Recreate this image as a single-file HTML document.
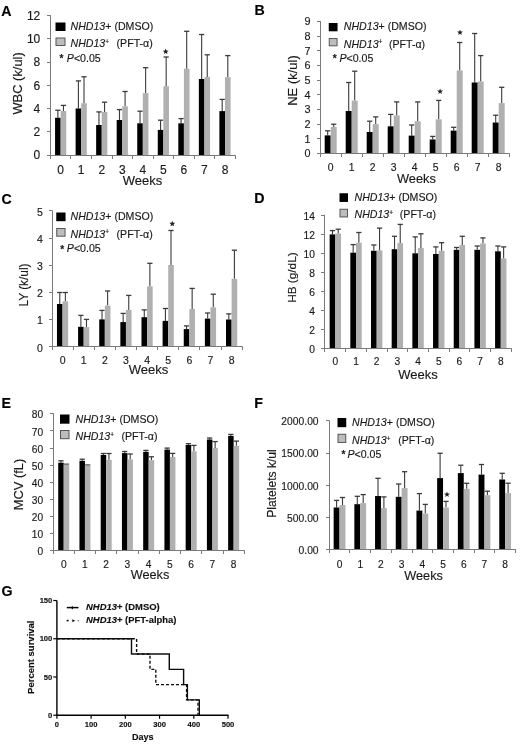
<!DOCTYPE html>
<html><head><meta charset="utf-8"><title>Figure</title>
<style>
html,body{margin:0;padding:0;background:#fff;}
body{width:520px;height:745px;overflow:hidden;}
svg{display:block;font-family:"Liberation Sans",sans-serif;}
text{stroke:#1a1a1a;stroke-width:0.15px;}
</style></head><body>
<svg width="520" height="745" viewBox="0 0 520 745">
<defs><filter id="soft" x="0" y="0" width="100%" height="100%"><feGaussianBlur stdDeviation="0.35"/></filter></defs>
<rect x="0" y="0" width="520" height="745" fill="#fff"/>
<g filter="url(#soft)">
<line x1="57.87" y1="117.75" x2="57.87" y2="110.25" stroke="#3a3a3a" stroke-width="1.1"/>
<line x1="55.27" y1="110.25" x2="60.47" y2="110.25" stroke="#3a3a3a" stroke-width="1.3"/>
<line x1="63.47" y1="111" x2="63.47" y2="105.4" stroke="#3a3a3a" stroke-width="1.1"/>
<line x1="60.87" y1="105.4" x2="66.07" y2="105.4" stroke="#3a3a3a" stroke-width="1.3"/>
<rect x="55.07" y="117.75" width="5.6" height="37.35" fill="#000"/>
<rect x="60.67" y="111" width="5.6" height="44.1" fill="#b0b0b0"/>
<line x1="78.41" y1="108.5" x2="78.41" y2="80.9" stroke="#3a3a3a" stroke-width="1.1"/>
<line x1="75.81" y1="80.9" x2="81.01" y2="80.9" stroke="#3a3a3a" stroke-width="1.3"/>
<line x1="84.01" y1="103.2" x2="84.01" y2="76.8" stroke="#3a3a3a" stroke-width="1.1"/>
<line x1="81.41" y1="76.8" x2="86.61" y2="76.8" stroke="#3a3a3a" stroke-width="1.3"/>
<rect x="75.61" y="108.5" width="5.6" height="46.6" fill="#000"/>
<rect x="81.21" y="103.2" width="5.6" height="51.9" fill="#b0b0b0"/>
<line x1="98.95" y1="125" x2="98.95" y2="111.9" stroke="#3a3a3a" stroke-width="1.1"/>
<line x1="96.35" y1="111.9" x2="101.55" y2="111.9" stroke="#3a3a3a" stroke-width="1.3"/>
<line x1="104.55" y1="111.9" x2="104.55" y2="102.2" stroke="#3a3a3a" stroke-width="1.1"/>
<line x1="101.95" y1="102.2" x2="107.15" y2="102.2" stroke="#3a3a3a" stroke-width="1.3"/>
<rect x="96.15" y="125" width="5.6" height="30.1" fill="#000"/>
<rect x="101.75" y="111.9" width="5.6" height="43.2" fill="#b0b0b0"/>
<line x1="119.49" y1="120" x2="119.49" y2="109.6" stroke="#3a3a3a" stroke-width="1.1"/>
<line x1="116.89" y1="109.6" x2="122.09" y2="109.6" stroke="#3a3a3a" stroke-width="1.3"/>
<line x1="125.09" y1="106.3" x2="125.09" y2="91.5" stroke="#3a3a3a" stroke-width="1.1"/>
<line x1="122.49" y1="91.5" x2="127.69" y2="91.5" stroke="#3a3a3a" stroke-width="1.3"/>
<rect x="116.69" y="120" width="5.6" height="35.1" fill="#000"/>
<rect x="122.29" y="106.3" width="5.6" height="48.8" fill="#b0b0b0"/>
<line x1="140.03" y1="123.3" x2="140.03" y2="111.2" stroke="#3a3a3a" stroke-width="1.1"/>
<line x1="137.43" y1="111.2" x2="142.63" y2="111.2" stroke="#3a3a3a" stroke-width="1.3"/>
<line x1="145.63" y1="93.1" x2="145.63" y2="67.7" stroke="#3a3a3a" stroke-width="1.1"/>
<line x1="143.03" y1="67.7" x2="148.23" y2="67.7" stroke="#3a3a3a" stroke-width="1.3"/>
<rect x="137.23" y="123.3" width="5.6" height="31.8" fill="#000"/>
<rect x="142.83" y="93.1" width="5.6" height="62" fill="#b0b0b0"/>
<line x1="160.57" y1="129.9" x2="160.57" y2="120.2" stroke="#3a3a3a" stroke-width="1.1"/>
<line x1="157.97" y1="120.2" x2="163.17" y2="120.2" stroke="#3a3a3a" stroke-width="1.3"/>
<line x1="166.17" y1="86.2" x2="166.17" y2="57" stroke="#3a3a3a" stroke-width="1.1"/>
<line x1="163.57" y1="57" x2="168.77" y2="57" stroke="#3a3a3a" stroke-width="1.3"/>
<rect x="157.77" y="129.9" width="5.6" height="25.2" fill="#000"/>
<rect x="163.37" y="86.2" width="5.6" height="68.9" fill="#b0b0b0"/>
<line x1="181.11" y1="123.3" x2="181.11" y2="118.6" stroke="#3a3a3a" stroke-width="1.1"/>
<line x1="178.51" y1="118.6" x2="183.71" y2="118.6" stroke="#3a3a3a" stroke-width="1.3"/>
<line x1="186.71" y1="68.7" x2="186.71" y2="31.3" stroke="#3a3a3a" stroke-width="1.1"/>
<line x1="184.11" y1="31.3" x2="189.31" y2="31.3" stroke="#3a3a3a" stroke-width="1.3"/>
<rect x="178.31" y="123.3" width="5.6" height="31.8" fill="#000"/>
<rect x="183.91" y="68.7" width="5.6" height="86.4" fill="#b0b0b0"/>
<line x1="201.65" y1="79" x2="201.65" y2="34.5" stroke="#3a3a3a" stroke-width="1.1"/>
<line x1="199.05" y1="34.5" x2="204.25" y2="34.5" stroke="#3a3a3a" stroke-width="1.3"/>
<line x1="207.25" y1="76.9" x2="207.25" y2="54.8" stroke="#3a3a3a" stroke-width="1.1"/>
<line x1="204.65" y1="54.8" x2="209.85" y2="54.8" stroke="#3a3a3a" stroke-width="1.3"/>
<rect x="198.85" y="79" width="5.6" height="76.1" fill="#000"/>
<rect x="204.45" y="76.9" width="5.6" height="78.2" fill="#b0b0b0"/>
<line x1="222.19" y1="111.1" x2="222.19" y2="99.4" stroke="#3a3a3a" stroke-width="1.1"/>
<line x1="219.59" y1="99.4" x2="224.79" y2="99.4" stroke="#3a3a3a" stroke-width="1.3"/>
<line x1="227.79" y1="77.1" x2="227.79" y2="55.6" stroke="#3a3a3a" stroke-width="1.1"/>
<line x1="225.19" y1="55.6" x2="230.39" y2="55.6" stroke="#3a3a3a" stroke-width="1.3"/>
<rect x="219.39" y="111.1" width="5.6" height="44" fill="#000"/>
<rect x="224.99" y="77.1" width="5.6" height="78" fill="#b0b0b0"/>
<line x1="50.5" y1="15.1" x2="50.5" y2="156" stroke="#7a7a7a" stroke-width="1"/>
<line x1="50" y1="155.5" x2="235.76" y2="155.5" stroke="#7a7a7a" stroke-width="1"/>
<line x1="47" y1="155.5" x2="50.5" y2="155.5" stroke="#7a7a7a" stroke-width="1"/>
<text x="40.3" y="159.42" font-size="12" text-anchor="end" font-weight="normal" font-style="normal" fill="#1a1a1a">0</text>
<line x1="47" y1="131.5" x2="50.5" y2="131.5" stroke="#7a7a7a" stroke-width="1"/>
<text x="40.3" y="136.17" font-size="12" text-anchor="end" font-weight="normal" font-style="normal" fill="#1a1a1a">2</text>
<line x1="47" y1="108.5" x2="50.5" y2="108.5" stroke="#7a7a7a" stroke-width="1"/>
<text x="40.3" y="112.92" font-size="12" text-anchor="end" font-weight="normal" font-style="normal" fill="#1a1a1a">4</text>
<line x1="47" y1="85.5" x2="50.5" y2="85.5" stroke="#7a7a7a" stroke-width="1"/>
<text x="40.3" y="89.67" font-size="12" text-anchor="end" font-weight="normal" font-style="normal" fill="#1a1a1a">6</text>
<line x1="47" y1="62.5" x2="50.5" y2="62.5" stroke="#7a7a7a" stroke-width="1"/>
<text x="40.3" y="66.42" font-size="12" text-anchor="end" font-weight="normal" font-style="normal" fill="#1a1a1a">8</text>
<line x1="47" y1="38.5" x2="50.5" y2="38.5" stroke="#7a7a7a" stroke-width="1"/>
<text x="40.3" y="43.17" font-size="12" text-anchor="end" font-weight="normal" font-style="normal" fill="#1a1a1a">10</text>
<line x1="47" y1="15.5" x2="50.5" y2="15.5" stroke="#7a7a7a" stroke-width="1"/>
<text x="40.3" y="19.92" font-size="12" text-anchor="end" font-weight="normal" font-style="normal" fill="#1a1a1a">12</text>
<line x1="50.5" y1="155.5" x2="50.5" y2="159" stroke="#7a7a7a" stroke-width="1"/>
<line x1="70.5" y1="155.5" x2="70.5" y2="159" stroke="#7a7a7a" stroke-width="1"/>
<line x1="91.5" y1="155.5" x2="91.5" y2="159" stroke="#7a7a7a" stroke-width="1"/>
<line x1="112.5" y1="155.5" x2="112.5" y2="159" stroke="#7a7a7a" stroke-width="1"/>
<line x1="132.5" y1="155.5" x2="132.5" y2="159" stroke="#7a7a7a" stroke-width="1"/>
<line x1="153.5" y1="155.5" x2="153.5" y2="159" stroke="#7a7a7a" stroke-width="1"/>
<line x1="173.5" y1="155.5" x2="173.5" y2="159" stroke="#7a7a7a" stroke-width="1"/>
<line x1="194.5" y1="155.5" x2="194.5" y2="159" stroke="#7a7a7a" stroke-width="1"/>
<line x1="214.5" y1="155.5" x2="214.5" y2="159" stroke="#7a7a7a" stroke-width="1"/>
<line x1="235.5" y1="155.5" x2="235.5" y2="159" stroke="#7a7a7a" stroke-width="1"/>
<text x="60.67" y="173.6" font-size="12" text-anchor="middle" font-weight="normal" font-style="normal" fill="#1a1a1a">0</text>
<text x="81.21" y="173.6" font-size="12" text-anchor="middle" font-weight="normal" font-style="normal" fill="#1a1a1a">1</text>
<text x="101.75" y="173.6" font-size="12" text-anchor="middle" font-weight="normal" font-style="normal" fill="#1a1a1a">2</text>
<text x="122.29" y="173.6" font-size="12" text-anchor="middle" font-weight="normal" font-style="normal" fill="#1a1a1a">3</text>
<text x="142.83" y="173.6" font-size="12" text-anchor="middle" font-weight="normal" font-style="normal" fill="#1a1a1a">4</text>
<text x="163.37" y="173.6" font-size="12" text-anchor="middle" font-weight="normal" font-style="normal" fill="#1a1a1a">5</text>
<text x="183.91" y="173.6" font-size="12" text-anchor="middle" font-weight="normal" font-style="normal" fill="#1a1a1a">6</text>
<text x="204.45" y="173.6" font-size="12" text-anchor="middle" font-weight="normal" font-style="normal" fill="#1a1a1a">7</text>
<text x="224.99" y="173.6" font-size="12" text-anchor="middle" font-weight="normal" font-style="normal" fill="#1a1a1a">8</text>
<text x="142.4" y="185.1" font-size="13" text-anchor="middle" font-weight="normal" font-style="normal" fill="#1a1a1a">Weeks</text>
<text transform="translate(22.3 83.4) rotate(-90)" x="0" y="0" font-size="12.9" text-anchor="middle" font-weight="normal" fill="#1a1a1a">WBC (k/ul)</text>
<text x="1.2" y="15.6" font-size="14.2" text-anchor="start" font-weight="bold" font-style="normal" fill="#000">A</text>
<rect x="55.5" y="22.5" width="10" height="8.5" fill="#000"/>
<rect x="56" y="38" width="9" height="7.5" fill="#bdbdbd" stroke="#555" stroke-width="1"/>
<text x="70.5" y="30.3" font-size="10.6" fill="#1a1a1a"><tspan font-style="italic">NHD13</tspan>+ (DMSO)</text>
<text x="70.5" y="47" font-size="10.6" fill="#1a1a1a"><tspan font-style="italic">NHD13</tspan><tspan font-size="6.57" dy="-3.2">+</tspan><tspan dy="3.2" x="116.6">(PFT-α)</tspan></text>
<text x="59.5" y="62.3" font-size="10.07" font-weight="bold" fill="#1a1a1a">*</text>
<text x="66.8" y="61.8" font-size="10.6" fill="#1a1a1a"><tspan font-style="italic">P</tspan>&lt;0.05</text>
<polygon points="165.7,48.5 166.49,50.51 168.65,50.64 166.98,52.02 167.52,54.11 165.7,52.95 163.88,54.11 164.42,52.02 162.75,50.64 164.91,50.51" fill="#222"/>
<line x1="327.7" y1="135.4" x2="327.7" y2="130.8" stroke="#3a3a3a" stroke-width="1.1"/>
<line x1="325.1" y1="130.8" x2="330.3" y2="130.8" stroke="#3a3a3a" stroke-width="1.3"/>
<line x1="333.7" y1="126.9" x2="333.7" y2="124.2" stroke="#3a3a3a" stroke-width="1.1"/>
<line x1="331.1" y1="124.2" x2="336.3" y2="124.2" stroke="#3a3a3a" stroke-width="1.3"/>
<rect x="324.7" y="135.4" width="6" height="17.9" fill="#000"/>
<rect x="330.7" y="126.9" width="6" height="26.4" fill="#b0b0b0"/>
<line x1="348.7" y1="111" x2="348.7" y2="82.5" stroke="#3a3a3a" stroke-width="1.1"/>
<line x1="346.1" y1="82.5" x2="351.3" y2="82.5" stroke="#3a3a3a" stroke-width="1.3"/>
<line x1="354.7" y1="100.6" x2="354.7" y2="71.2" stroke="#3a3a3a" stroke-width="1.1"/>
<line x1="352.1" y1="71.2" x2="357.3" y2="71.2" stroke="#3a3a3a" stroke-width="1.3"/>
<rect x="345.7" y="111" width="6" height="42.3" fill="#000"/>
<rect x="351.7" y="100.6" width="6" height="52.7" fill="#b0b0b0"/>
<line x1="369.7" y1="132" x2="369.7" y2="121.2" stroke="#3a3a3a" stroke-width="1.1"/>
<line x1="367.1" y1="121.2" x2="372.3" y2="121.2" stroke="#3a3a3a" stroke-width="1.3"/>
<line x1="375.7" y1="124.1" x2="375.7" y2="116.9" stroke="#3a3a3a" stroke-width="1.1"/>
<line x1="373.1" y1="116.9" x2="378.3" y2="116.9" stroke="#3a3a3a" stroke-width="1.3"/>
<rect x="366.7" y="132" width="6" height="21.3" fill="#000"/>
<rect x="372.7" y="124.1" width="6" height="29.2" fill="#b0b0b0"/>
<line x1="390.7" y1="126.3" x2="390.7" y2="114.4" stroke="#3a3a3a" stroke-width="1.1"/>
<line x1="388.1" y1="114.4" x2="393.3" y2="114.4" stroke="#3a3a3a" stroke-width="1.3"/>
<line x1="396.7" y1="115.4" x2="396.7" y2="101.9" stroke="#3a3a3a" stroke-width="1.1"/>
<line x1="394.1" y1="101.9" x2="399.3" y2="101.9" stroke="#3a3a3a" stroke-width="1.3"/>
<rect x="387.7" y="126.3" width="6" height="27" fill="#000"/>
<rect x="393.7" y="115.4" width="6" height="37.9" fill="#b0b0b0"/>
<line x1="411.7" y1="135.6" x2="411.7" y2="125" stroke="#3a3a3a" stroke-width="1.1"/>
<line x1="409.1" y1="125" x2="414.3" y2="125" stroke="#3a3a3a" stroke-width="1.3"/>
<line x1="417.7" y1="121.2" x2="417.7" y2="101.9" stroke="#3a3a3a" stroke-width="1.1"/>
<line x1="415.1" y1="101.9" x2="420.3" y2="101.9" stroke="#3a3a3a" stroke-width="1.3"/>
<rect x="408.7" y="135.6" width="6" height="17.7" fill="#000"/>
<rect x="414.7" y="121.2" width="6" height="32.1" fill="#b0b0b0"/>
<line x1="432.7" y1="139.5" x2="432.7" y2="136.4" stroke="#3a3a3a" stroke-width="1.1"/>
<line x1="430.1" y1="136.4" x2="435.3" y2="136.4" stroke="#3a3a3a" stroke-width="1.3"/>
<line x1="438.7" y1="119.3" x2="438.7" y2="100.4" stroke="#3a3a3a" stroke-width="1.1"/>
<line x1="436.1" y1="100.4" x2="441.3" y2="100.4" stroke="#3a3a3a" stroke-width="1.3"/>
<rect x="429.7" y="139.5" width="6" height="13.8" fill="#000"/>
<rect x="435.7" y="119.3" width="6" height="34" fill="#b0b0b0"/>
<line x1="453.7" y1="130.6" x2="453.7" y2="127.3" stroke="#3a3a3a" stroke-width="1.1"/>
<line x1="451.1" y1="127.3" x2="456.3" y2="127.3" stroke="#3a3a3a" stroke-width="1.3"/>
<line x1="459.7" y1="70.4" x2="459.7" y2="42.5" stroke="#3a3a3a" stroke-width="1.1"/>
<line x1="457.1" y1="42.5" x2="462.3" y2="42.5" stroke="#3a3a3a" stroke-width="1.3"/>
<rect x="450.7" y="130.6" width="6" height="22.7" fill="#000"/>
<rect x="456.7" y="70.4" width="6" height="82.9" fill="#b0b0b0"/>
<line x1="474.7" y1="82.5" x2="474.7" y2="33.5" stroke="#3a3a3a" stroke-width="1.1"/>
<line x1="472.1" y1="33.5" x2="477.3" y2="33.5" stroke="#3a3a3a" stroke-width="1.3"/>
<line x1="480.7" y1="81.5" x2="480.7" y2="55.6" stroke="#3a3a3a" stroke-width="1.1"/>
<line x1="478.1" y1="55.6" x2="483.3" y2="55.6" stroke="#3a3a3a" stroke-width="1.3"/>
<rect x="471.7" y="82.5" width="6" height="70.8" fill="#000"/>
<rect x="477.7" y="81.5" width="6" height="71.8" fill="#b0b0b0"/>
<line x1="495.7" y1="122.5" x2="495.7" y2="115.2" stroke="#3a3a3a" stroke-width="1.1"/>
<line x1="493.1" y1="115.2" x2="498.3" y2="115.2" stroke="#3a3a3a" stroke-width="1.3"/>
<line x1="501.7" y1="103.1" x2="501.7" y2="87.3" stroke="#3a3a3a" stroke-width="1.1"/>
<line x1="499.1" y1="87.3" x2="504.3" y2="87.3" stroke="#3a3a3a" stroke-width="1.3"/>
<rect x="492.7" y="122.5" width="6" height="30.8" fill="#000"/>
<rect x="498.7" y="103.1" width="6" height="50.2" fill="#b0b0b0"/>
<line x1="320.5" y1="21" x2="320.5" y2="154" stroke="#7a7a7a" stroke-width="1"/>
<line x1="320" y1="153.5" x2="509.7" y2="153.5" stroke="#7a7a7a" stroke-width="1"/>
<line x1="317" y1="153.5" x2="320.5" y2="153.5" stroke="#7a7a7a" stroke-width="1"/>
<text x="310.6" y="157.19" font-size="10.8" text-anchor="end" font-weight="normal" font-style="normal" fill="#1a1a1a">0</text>
<line x1="317" y1="138.5" x2="320.5" y2="138.5" stroke="#7a7a7a" stroke-width="1"/>
<text x="310.6" y="142.54" font-size="10.8" text-anchor="end" font-weight="normal" font-style="normal" fill="#1a1a1a">1</text>
<line x1="317" y1="124.5" x2="320.5" y2="124.5" stroke="#7a7a7a" stroke-width="1"/>
<text x="310.6" y="127.9" font-size="10.8" text-anchor="end" font-weight="normal" font-style="normal" fill="#1a1a1a">2</text>
<line x1="317" y1="109.5" x2="320.5" y2="109.5" stroke="#7a7a7a" stroke-width="1"/>
<text x="310.6" y="113.25" font-size="10.8" text-anchor="end" font-weight="normal" font-style="normal" fill="#1a1a1a">3</text>
<line x1="317" y1="94.5" x2="320.5" y2="94.5" stroke="#7a7a7a" stroke-width="1"/>
<text x="310.6" y="98.61" font-size="10.8" text-anchor="end" font-weight="normal" font-style="normal" fill="#1a1a1a">4</text>
<line x1="317" y1="80.5" x2="320.5" y2="80.5" stroke="#7a7a7a" stroke-width="1"/>
<text x="310.6" y="83.97" font-size="10.8" text-anchor="end" font-weight="normal" font-style="normal" fill="#1a1a1a">5</text>
<line x1="317" y1="65.5" x2="320.5" y2="65.5" stroke="#7a7a7a" stroke-width="1"/>
<text x="310.6" y="69.32" font-size="10.8" text-anchor="end" font-weight="normal" font-style="normal" fill="#1a1a1a">6</text>
<line x1="317" y1="50.5" x2="320.5" y2="50.5" stroke="#7a7a7a" stroke-width="1"/>
<text x="310.6" y="54.68" font-size="10.8" text-anchor="end" font-weight="normal" font-style="normal" fill="#1a1a1a">7</text>
<line x1="317" y1="36.5" x2="320.5" y2="36.5" stroke="#7a7a7a" stroke-width="1"/>
<text x="310.6" y="40.03" font-size="10.8" text-anchor="end" font-weight="normal" font-style="normal" fill="#1a1a1a">8</text>
<line x1="317" y1="21.5" x2="320.5" y2="21.5" stroke="#7a7a7a" stroke-width="1"/>
<text x="310.6" y="25.39" font-size="10.8" text-anchor="end" font-weight="normal" font-style="normal" fill="#1a1a1a">9</text>
<line x1="320.5" y1="153.5" x2="320.5" y2="157" stroke="#7a7a7a" stroke-width="1"/>
<line x1="341.5" y1="153.5" x2="341.5" y2="157" stroke="#7a7a7a" stroke-width="1"/>
<line x1="362.5" y1="153.5" x2="362.5" y2="157" stroke="#7a7a7a" stroke-width="1"/>
<line x1="383.5" y1="153.5" x2="383.5" y2="157" stroke="#7a7a7a" stroke-width="1"/>
<line x1="404.5" y1="153.5" x2="404.5" y2="157" stroke="#7a7a7a" stroke-width="1"/>
<line x1="425.5" y1="153.5" x2="425.5" y2="157" stroke="#7a7a7a" stroke-width="1"/>
<line x1="446.5" y1="153.5" x2="446.5" y2="157" stroke="#7a7a7a" stroke-width="1"/>
<line x1="467.5" y1="153.5" x2="467.5" y2="157" stroke="#7a7a7a" stroke-width="1"/>
<line x1="488.5" y1="153.5" x2="488.5" y2="157" stroke="#7a7a7a" stroke-width="1"/>
<line x1="509.5" y1="153.5" x2="509.5" y2="157" stroke="#7a7a7a" stroke-width="1"/>
<text x="330.7" y="171.4" font-size="10.4" text-anchor="middle" font-weight="normal" font-style="normal" fill="#1a1a1a">0</text>
<text x="351.7" y="171.4" font-size="10.4" text-anchor="middle" font-weight="normal" font-style="normal" fill="#1a1a1a">1</text>
<text x="372.7" y="171.4" font-size="10.4" text-anchor="middle" font-weight="normal" font-style="normal" fill="#1a1a1a">2</text>
<text x="393.7" y="171.4" font-size="10.4" text-anchor="middle" font-weight="normal" font-style="normal" fill="#1a1a1a">3</text>
<text x="414.7" y="171.4" font-size="10.4" text-anchor="middle" font-weight="normal" font-style="normal" fill="#1a1a1a">4</text>
<text x="435.7" y="171.4" font-size="10.4" text-anchor="middle" font-weight="normal" font-style="normal" fill="#1a1a1a">5</text>
<text x="456.7" y="171.4" font-size="10.4" text-anchor="middle" font-weight="normal" font-style="normal" fill="#1a1a1a">6</text>
<text x="477.7" y="171.4" font-size="10.4" text-anchor="middle" font-weight="normal" font-style="normal" fill="#1a1a1a">7</text>
<text x="498.7" y="171.4" font-size="10.4" text-anchor="middle" font-weight="normal" font-style="normal" fill="#1a1a1a">8</text>
<text x="416.4" y="183.4" font-size="12.8" text-anchor="middle" font-weight="normal" font-style="normal" fill="#1a1a1a">Weeks</text>
<text transform="translate(296.9 80.5) rotate(-90)" x="0" y="0" font-size="13" text-anchor="middle" font-weight="normal" fill="#1a1a1a">NE (k/ul)</text>
<text x="254.5" y="15.1" font-size="14.2" text-anchor="start" font-weight="bold" font-style="normal" fill="#000">B</text>
<rect x="328.75" y="23" width="8.8" height="8.3" fill="#000"/>
<rect x="329.25" y="38.5" width="7.8" height="7.3" fill="#bdbdbd" stroke="#555" stroke-width="1"/>
<text x="343.8" y="30.3" font-size="10.6" fill="#1a1a1a"><tspan font-style="italic">NHD13</tspan>+ (DMSO)</text>
<text x="343.8" y="47.5" font-size="10.6" fill="#1a1a1a"><tspan font-style="italic">NHD13</tspan><tspan font-size="6.57" dy="-3.2">+</tspan><tspan dy="3.2" x="389">(PFT-α)</tspan></text>
<text x="332.7" y="62.3" font-size="10.07" font-weight="bold" fill="#1a1a1a">*</text>
<text x="339.4" y="61.8" font-size="10.6" fill="#1a1a1a"><tspan font-style="italic">P</tspan>&lt;0.05</text>
<polygon points="440.1,88.4 440.89,90.41 443.05,90.54 441.38,91.92 441.92,94.01 440.1,92.85 438.28,94.01 438.82,91.92 437.15,90.54 439.31,90.41" fill="#222"/>
<polygon points="460,29.4 460.79,31.41 462.95,31.54 461.28,32.92 461.82,35.01 460,33.85 458.18,35.01 458.72,32.92 457.05,31.54 459.21,31.41" fill="#222"/>
<line x1="59.77" y1="304" x2="59.77" y2="292.5" stroke="#3a3a3a" stroke-width="1.1"/>
<line x1="57.16" y1="292.5" x2="62.37" y2="292.5" stroke="#3a3a3a" stroke-width="1.3"/>
<line x1="65.36" y1="301.3" x2="65.36" y2="292.5" stroke="#3a3a3a" stroke-width="1.1"/>
<line x1="62.76" y1="292.5" x2="67.96" y2="292.5" stroke="#3a3a3a" stroke-width="1.3"/>
<rect x="56.96" y="304" width="5.6" height="42.5" fill="#000"/>
<rect x="62.56" y="301.3" width="5.6" height="45.2" fill="#b0b0b0"/>
<line x1="80.89" y1="326.8" x2="80.89" y2="315.4" stroke="#3a3a3a" stroke-width="1.1"/>
<line x1="78.3" y1="315.4" x2="83.49" y2="315.4" stroke="#3a3a3a" stroke-width="1.3"/>
<line x1="86.49" y1="327.1" x2="86.49" y2="319.4" stroke="#3a3a3a" stroke-width="1.1"/>
<line x1="83.89" y1="319.4" x2="89.09" y2="319.4" stroke="#3a3a3a" stroke-width="1.3"/>
<rect x="78.09" y="326.8" width="5.6" height="19.7" fill="#000"/>
<rect x="83.69" y="327.1" width="5.6" height="19.4" fill="#b0b0b0"/>
<line x1="102.02" y1="319.4" x2="102.02" y2="310.4" stroke="#3a3a3a" stroke-width="1.1"/>
<line x1="99.42" y1="310.4" x2="104.62" y2="310.4" stroke="#3a3a3a" stroke-width="1.3"/>
<line x1="107.62" y1="305.6" x2="107.62" y2="291" stroke="#3a3a3a" stroke-width="1.1"/>
<line x1="105.02" y1="291" x2="110.22" y2="291" stroke="#3a3a3a" stroke-width="1.3"/>
<rect x="99.22" y="319.4" width="5.6" height="27.1" fill="#000"/>
<rect x="104.82" y="305.6" width="5.6" height="40.9" fill="#b0b0b0"/>
<line x1="123.16" y1="322.1" x2="123.16" y2="313.4" stroke="#3a3a3a" stroke-width="1.1"/>
<line x1="120.56" y1="313.4" x2="125.75" y2="313.4" stroke="#3a3a3a" stroke-width="1.3"/>
<line x1="128.75" y1="309.9" x2="128.75" y2="295.4" stroke="#3a3a3a" stroke-width="1.1"/>
<line x1="126.16" y1="295.4" x2="131.35" y2="295.4" stroke="#3a3a3a" stroke-width="1.3"/>
<rect x="120.36" y="322.1" width="5.6" height="24.4" fill="#000"/>
<rect x="125.95" y="309.9" width="5.6" height="36.6" fill="#b0b0b0"/>
<line x1="144.28" y1="317.2" x2="144.28" y2="309.9" stroke="#3a3a3a" stroke-width="1.1"/>
<line x1="141.68" y1="309.9" x2="146.88" y2="309.9" stroke="#3a3a3a" stroke-width="1.3"/>
<line x1="149.88" y1="286.3" x2="149.88" y2="263.3" stroke="#3a3a3a" stroke-width="1.1"/>
<line x1="147.28" y1="263.3" x2="152.48" y2="263.3" stroke="#3a3a3a" stroke-width="1.3"/>
<rect x="141.48" y="317.2" width="5.6" height="29.3" fill="#000"/>
<rect x="147.08" y="286.3" width="5.6" height="60.2" fill="#b0b0b0"/>
<line x1="165.41" y1="320.9" x2="165.41" y2="308.5" stroke="#3a3a3a" stroke-width="1.1"/>
<line x1="162.81" y1="308.5" x2="168.01" y2="308.5" stroke="#3a3a3a" stroke-width="1.3"/>
<line x1="171.01" y1="265" x2="171.01" y2="230.5" stroke="#3a3a3a" stroke-width="1.1"/>
<line x1="168.41" y1="230.5" x2="173.61" y2="230.5" stroke="#3a3a3a" stroke-width="1.3"/>
<rect x="162.61" y="320.9" width="5.6" height="25.6" fill="#000"/>
<rect x="168.21" y="265" width="5.6" height="81.5" fill="#b0b0b0"/>
<line x1="186.54" y1="329.1" x2="186.54" y2="325.9" stroke="#3a3a3a" stroke-width="1.1"/>
<line x1="183.94" y1="325.9" x2="189.14" y2="325.9" stroke="#3a3a3a" stroke-width="1.3"/>
<line x1="192.15" y1="309" x2="192.15" y2="288.4" stroke="#3a3a3a" stroke-width="1.1"/>
<line x1="189.55" y1="288.4" x2="194.75" y2="288.4" stroke="#3a3a3a" stroke-width="1.3"/>
<rect x="183.75" y="329.1" width="5.6" height="17.4" fill="#000"/>
<rect x="189.34" y="309" width="5.6" height="37.5" fill="#b0b0b0"/>
<line x1="207.67" y1="318.6" x2="207.67" y2="313" stroke="#3a3a3a" stroke-width="1.1"/>
<line x1="205.07" y1="313" x2="210.27" y2="313" stroke="#3a3a3a" stroke-width="1.3"/>
<line x1="213.28" y1="307.3" x2="213.28" y2="294.2" stroke="#3a3a3a" stroke-width="1.1"/>
<line x1="210.68" y1="294.2" x2="215.88" y2="294.2" stroke="#3a3a3a" stroke-width="1.3"/>
<rect x="204.88" y="318.6" width="5.6" height="27.9" fill="#000"/>
<rect x="210.47" y="307.3" width="5.6" height="39.2" fill="#b0b0b0"/>
<line x1="228.8" y1="319.5" x2="228.8" y2="313.9" stroke="#3a3a3a" stroke-width="1.1"/>
<line x1="226.2" y1="313.9" x2="231.4" y2="313.9" stroke="#3a3a3a" stroke-width="1.3"/>
<line x1="234.41" y1="278.8" x2="234.41" y2="250.2" stroke="#3a3a3a" stroke-width="1.1"/>
<line x1="231.81" y1="250.2" x2="237" y2="250.2" stroke="#3a3a3a" stroke-width="1.3"/>
<rect x="226" y="319.5" width="5.6" height="27" fill="#000"/>
<rect x="231.6" y="278.8" width="5.6" height="67.7" fill="#b0b0b0"/>
<line x1="52.5" y1="210.5" x2="52.5" y2="347" stroke="#7a7a7a" stroke-width="1"/>
<line x1="52" y1="346.5" x2="242.67" y2="346.5" stroke="#7a7a7a" stroke-width="1"/>
<line x1="49" y1="346.5" x2="52.5" y2="346.5" stroke="#7a7a7a" stroke-width="1"/>
<text x="42.9" y="351.58" font-size="10.5" text-anchor="end" font-weight="normal" font-style="normal" fill="#1a1a1a">0</text>
<line x1="49" y1="319.5" x2="52.5" y2="319.5" stroke="#7a7a7a" stroke-width="1"/>
<text x="42.9" y="324.48" font-size="10.5" text-anchor="end" font-weight="normal" font-style="normal" fill="#1a1a1a">1</text>
<line x1="49" y1="292.5" x2="52.5" y2="292.5" stroke="#7a7a7a" stroke-width="1"/>
<text x="42.9" y="297.38" font-size="10.5" text-anchor="end" font-weight="normal" font-style="normal" fill="#1a1a1a">2</text>
<line x1="49" y1="265.5" x2="52.5" y2="265.5" stroke="#7a7a7a" stroke-width="1"/>
<text x="42.9" y="270.28" font-size="10.5" text-anchor="end" font-weight="normal" font-style="normal" fill="#1a1a1a">3</text>
<line x1="49" y1="238.5" x2="52.5" y2="238.5" stroke="#7a7a7a" stroke-width="1"/>
<text x="42.9" y="243.18" font-size="10.5" text-anchor="end" font-weight="normal" font-style="normal" fill="#1a1a1a">4</text>
<line x1="49" y1="210.5" x2="52.5" y2="210.5" stroke="#7a7a7a" stroke-width="1"/>
<text x="42.9" y="216.08" font-size="10.5" text-anchor="end" font-weight="normal" font-style="normal" fill="#1a1a1a">5</text>
<line x1="52.5" y1="346.5" x2="52.5" y2="350" stroke="#7a7a7a" stroke-width="1"/>
<line x1="73.5" y1="346.5" x2="73.5" y2="350" stroke="#7a7a7a" stroke-width="1"/>
<line x1="94.5" y1="346.5" x2="94.5" y2="350" stroke="#7a7a7a" stroke-width="1"/>
<line x1="115.5" y1="346.5" x2="115.5" y2="350" stroke="#7a7a7a" stroke-width="1"/>
<line x1="136.5" y1="346.5" x2="136.5" y2="350" stroke="#7a7a7a" stroke-width="1"/>
<line x1="157.5" y1="346.5" x2="157.5" y2="350" stroke="#7a7a7a" stroke-width="1"/>
<line x1="178.5" y1="346.5" x2="178.5" y2="350" stroke="#7a7a7a" stroke-width="1"/>
<line x1="199.5" y1="346.5" x2="199.5" y2="350" stroke="#7a7a7a" stroke-width="1"/>
<line x1="221.5" y1="346.5" x2="221.5" y2="350" stroke="#7a7a7a" stroke-width="1"/>
<line x1="242.5" y1="346.5" x2="242.5" y2="350" stroke="#7a7a7a" stroke-width="1"/>
<text x="62.56" y="364.3" font-size="10.5" text-anchor="middle" font-weight="normal" font-style="normal" fill="#1a1a1a">0</text>
<text x="83.69" y="364.3" font-size="10.5" text-anchor="middle" font-weight="normal" font-style="normal" fill="#1a1a1a">1</text>
<text x="104.82" y="364.3" font-size="10.5" text-anchor="middle" font-weight="normal" font-style="normal" fill="#1a1a1a">2</text>
<text x="125.95" y="364.3" font-size="10.5" text-anchor="middle" font-weight="normal" font-style="normal" fill="#1a1a1a">3</text>
<text x="147.08" y="364.3" font-size="10.5" text-anchor="middle" font-weight="normal" font-style="normal" fill="#1a1a1a">4</text>
<text x="168.21" y="364.3" font-size="10.5" text-anchor="middle" font-weight="normal" font-style="normal" fill="#1a1a1a">5</text>
<text x="189.34" y="364.3" font-size="10.5" text-anchor="middle" font-weight="normal" font-style="normal" fill="#1a1a1a">6</text>
<text x="210.47" y="364.3" font-size="10.5" text-anchor="middle" font-weight="normal" font-style="normal" fill="#1a1a1a">7</text>
<text x="231.6" y="364.3" font-size="10.5" text-anchor="middle" font-weight="normal" font-style="normal" fill="#1a1a1a">8</text>
<text x="148.5" y="374.3" font-size="13" text-anchor="middle" font-weight="normal" font-style="normal" fill="#1a1a1a">Weeks</text>
<text transform="translate(27.5 285) rotate(-90)" x="0" y="0" font-size="11.9" text-anchor="middle" font-weight="normal" fill="#1a1a1a">LY (k/ul)</text>
<text x="1.5" y="204.3" font-size="14.2" text-anchor="start" font-weight="bold" font-style="normal" fill="#000">C</text>
<rect x="56.25" y="212.5" width="9.3" height="8.7" fill="#000"/>
<rect x="56.75" y="228.5" width="8.3" height="7.7" fill="#bdbdbd" stroke="#555" stroke-width="1"/>
<text x="70.5" y="220.3" font-size="10.6" fill="#1a1a1a"><tspan font-style="italic">NHD13</tspan>+ (DMSO)</text>
<text x="70.5" y="237.6" font-size="10.6" fill="#1a1a1a"><tspan font-style="italic">NHD13</tspan><tspan font-size="6.57" dy="-3.2">+</tspan><tspan dy="3.2" x="116.6">(PFT-α)</tspan></text>
<text x="60.3" y="252.7" font-size="10.07" font-weight="bold" fill="#1a1a1a">*</text>
<text x="66.8" y="252.2" font-size="10.6" fill="#1a1a1a"><tspan font-style="italic">P</tspan>&lt;0.05</text>
<polygon points="172.3,220.7 173.09,222.71 175.25,222.84 173.58,224.22 174.12,226.31 172.3,225.15 170.48,226.31 171.02,224.22 169.35,222.84 171.51,222.71" fill="#222"/>
<line x1="332.49" y1="234.4" x2="332.49" y2="230.6" stroke="#3a3a3a" stroke-width="1.1"/>
<line x1="329.89" y1="230.6" x2="335.09" y2="230.6" stroke="#3a3a3a" stroke-width="1.3"/>
<line x1="338.19" y1="233.5" x2="338.19" y2="229.2" stroke="#3a3a3a" stroke-width="1.1"/>
<line x1="335.59" y1="229.2" x2="340.79" y2="229.2" stroke="#3a3a3a" stroke-width="1.3"/>
<rect x="329.64" y="234.4" width="5.7" height="113.9" fill="#000"/>
<rect x="335.34" y="233.5" width="5.7" height="114.8" fill="#b0b0b0"/>
<line x1="353.17" y1="252.7" x2="353.17" y2="244.6" stroke="#3a3a3a" stroke-width="1.1"/>
<line x1="350.57" y1="244.6" x2="355.77" y2="244.6" stroke="#3a3a3a" stroke-width="1.3"/>
<line x1="358.87" y1="242.7" x2="358.87" y2="232.5" stroke="#3a3a3a" stroke-width="1.1"/>
<line x1="356.27" y1="232.5" x2="361.47" y2="232.5" stroke="#3a3a3a" stroke-width="1.3"/>
<rect x="350.32" y="252.7" width="5.7" height="95.6" fill="#000"/>
<rect x="356.02" y="242.7" width="5.7" height="105.6" fill="#b0b0b0"/>
<line x1="373.85" y1="250.8" x2="373.85" y2="245" stroke="#3a3a3a" stroke-width="1.1"/>
<line x1="371.25" y1="245" x2="376.45" y2="245" stroke="#3a3a3a" stroke-width="1.3"/>
<line x1="379.55" y1="250.4" x2="379.55" y2="228.1" stroke="#3a3a3a" stroke-width="1.1"/>
<line x1="376.95" y1="228.1" x2="382.15" y2="228.1" stroke="#3a3a3a" stroke-width="1.3"/>
<rect x="371" y="250.8" width="5.7" height="97.5" fill="#000"/>
<rect x="376.7" y="250.4" width="5.7" height="97.9" fill="#b0b0b0"/>
<line x1="394.53" y1="249.2" x2="394.53" y2="236.3" stroke="#3a3a3a" stroke-width="1.1"/>
<line x1="391.93" y1="236.3" x2="397.13" y2="236.3" stroke="#3a3a3a" stroke-width="1.3"/>
<line x1="400.23" y1="243.1" x2="400.23" y2="224.4" stroke="#3a3a3a" stroke-width="1.1"/>
<line x1="397.63" y1="224.4" x2="402.83" y2="224.4" stroke="#3a3a3a" stroke-width="1.3"/>
<rect x="391.68" y="249.2" width="5.7" height="99.1" fill="#000"/>
<rect x="397.38" y="243.1" width="5.7" height="105.2" fill="#b0b0b0"/>
<line x1="415.21" y1="253.3" x2="415.21" y2="236.9" stroke="#3a3a3a" stroke-width="1.1"/>
<line x1="412.61" y1="236.9" x2="417.81" y2="236.9" stroke="#3a3a3a" stroke-width="1.3"/>
<line x1="420.91" y1="247.9" x2="420.91" y2="233.8" stroke="#3a3a3a" stroke-width="1.1"/>
<line x1="418.31" y1="233.8" x2="423.51" y2="233.8" stroke="#3a3a3a" stroke-width="1.3"/>
<rect x="412.36" y="253.3" width="5.7" height="95" fill="#000"/>
<rect x="418.06" y="247.9" width="5.7" height="100.4" fill="#b0b0b0"/>
<line x1="435.89" y1="254" x2="435.89" y2="246.9" stroke="#3a3a3a" stroke-width="1.1"/>
<line x1="433.29" y1="246.9" x2="438.49" y2="246.9" stroke="#3a3a3a" stroke-width="1.3"/>
<line x1="441.59" y1="250.8" x2="441.59" y2="242.7" stroke="#3a3a3a" stroke-width="1.1"/>
<line x1="438.99" y1="242.7" x2="444.19" y2="242.7" stroke="#3a3a3a" stroke-width="1.3"/>
<rect x="433.04" y="254" width="5.7" height="94.3" fill="#000"/>
<rect x="438.74" y="250.8" width="5.7" height="97.5" fill="#b0b0b0"/>
<line x1="456.57" y1="249.8" x2="456.57" y2="247.5" stroke="#3a3a3a" stroke-width="1.1"/>
<line x1="453.97" y1="247.5" x2="459.17" y2="247.5" stroke="#3a3a3a" stroke-width="1.3"/>
<line x1="462.27" y1="245" x2="462.27" y2="236.3" stroke="#3a3a3a" stroke-width="1.1"/>
<line x1="459.67" y1="236.3" x2="464.87" y2="236.3" stroke="#3a3a3a" stroke-width="1.3"/>
<rect x="453.72" y="249.8" width="5.7" height="98.5" fill="#000"/>
<rect x="459.42" y="245" width="5.7" height="103.3" fill="#b0b0b0"/>
<line x1="477.25" y1="249.8" x2="477.25" y2="246" stroke="#3a3a3a" stroke-width="1.1"/>
<line x1="474.65" y1="246" x2="479.85" y2="246" stroke="#3a3a3a" stroke-width="1.3"/>
<line x1="482.95" y1="243.5" x2="482.95" y2="237.9" stroke="#3a3a3a" stroke-width="1.1"/>
<line x1="480.35" y1="237.9" x2="485.55" y2="237.9" stroke="#3a3a3a" stroke-width="1.3"/>
<rect x="474.4" y="249.8" width="5.7" height="98.5" fill="#000"/>
<rect x="480.1" y="243.5" width="5.7" height="104.8" fill="#b0b0b0"/>
<line x1="497.93" y1="251.3" x2="497.93" y2="246" stroke="#3a3a3a" stroke-width="1.1"/>
<line x1="495.33" y1="246" x2="500.53" y2="246" stroke="#3a3a3a" stroke-width="1.3"/>
<line x1="503.63" y1="258.5" x2="503.63" y2="246.9" stroke="#3a3a3a" stroke-width="1.1"/>
<line x1="501.03" y1="246.9" x2="506.23" y2="246.9" stroke="#3a3a3a" stroke-width="1.3"/>
<rect x="495.08" y="251.3" width="5.7" height="97" fill="#000"/>
<rect x="500.78" y="258.5" width="5.7" height="89.8" fill="#b0b0b0"/>
<line x1="324.5" y1="214.7" x2="324.5" y2="349" stroke="#7a7a7a" stroke-width="1"/>
<line x1="324" y1="348.5" x2="511.62" y2="348.5" stroke="#7a7a7a" stroke-width="1"/>
<line x1="321" y1="348.5" x2="324.5" y2="348.5" stroke="#7a7a7a" stroke-width="1"/>
<text x="314.9" y="352.77" font-size="10.2" text-anchor="end" font-weight="normal" font-style="normal" fill="#1a1a1a">0</text>
<line x1="321" y1="329.5" x2="324.5" y2="329.5" stroke="#7a7a7a" stroke-width="1"/>
<text x="314.9" y="333.76" font-size="10.2" text-anchor="end" font-weight="normal" font-style="normal" fill="#1a1a1a">2</text>
<line x1="321" y1="310.5" x2="324.5" y2="310.5" stroke="#7a7a7a" stroke-width="1"/>
<text x="314.9" y="314.74" font-size="10.2" text-anchor="end" font-weight="normal" font-style="normal" fill="#1a1a1a">4</text>
<line x1="321" y1="291.5" x2="324.5" y2="291.5" stroke="#7a7a7a" stroke-width="1"/>
<text x="314.9" y="295.73" font-size="10.2" text-anchor="end" font-weight="normal" font-style="normal" fill="#1a1a1a">6</text>
<line x1="321" y1="272.5" x2="324.5" y2="272.5" stroke="#7a7a7a" stroke-width="1"/>
<text x="314.9" y="276.71" font-size="10.2" text-anchor="end" font-weight="normal" font-style="normal" fill="#1a1a1a">8</text>
<line x1="321" y1="253.5" x2="324.5" y2="253.5" stroke="#7a7a7a" stroke-width="1"/>
<text x="314.9" y="257.7" font-size="10.2" text-anchor="end" font-weight="normal" font-style="normal" fill="#1a1a1a">10</text>
<line x1="321" y1="234.5" x2="324.5" y2="234.5" stroke="#7a7a7a" stroke-width="1"/>
<text x="314.9" y="238.69" font-size="10.2" text-anchor="end" font-weight="normal" font-style="normal" fill="#1a1a1a">12</text>
<line x1="321" y1="215.5" x2="324.5" y2="215.5" stroke="#7a7a7a" stroke-width="1"/>
<text x="314.9" y="219.67" font-size="10.2" text-anchor="end" font-weight="normal" font-style="normal" fill="#1a1a1a">14</text>
<line x1="324.5" y1="348.5" x2="324.5" y2="352" stroke="#7a7a7a" stroke-width="1"/>
<line x1="345.5" y1="348.5" x2="345.5" y2="352" stroke="#7a7a7a" stroke-width="1"/>
<line x1="366.5" y1="348.5" x2="366.5" y2="352" stroke="#7a7a7a" stroke-width="1"/>
<line x1="387.5" y1="348.5" x2="387.5" y2="352" stroke="#7a7a7a" stroke-width="1"/>
<line x1="407.5" y1="348.5" x2="407.5" y2="352" stroke="#7a7a7a" stroke-width="1"/>
<line x1="428.5" y1="348.5" x2="428.5" y2="352" stroke="#7a7a7a" stroke-width="1"/>
<line x1="449.5" y1="348.5" x2="449.5" y2="352" stroke="#7a7a7a" stroke-width="1"/>
<line x1="469.5" y1="348.5" x2="469.5" y2="352" stroke="#7a7a7a" stroke-width="1"/>
<line x1="490.5" y1="348.5" x2="490.5" y2="352" stroke="#7a7a7a" stroke-width="1"/>
<line x1="511.5" y1="348.5" x2="511.5" y2="352" stroke="#7a7a7a" stroke-width="1"/>
<text x="335.34" y="365" font-size="10.2" text-anchor="middle" font-weight="normal" font-style="normal" fill="#1a1a1a">0</text>
<text x="356.02" y="365" font-size="10.2" text-anchor="middle" font-weight="normal" font-style="normal" fill="#1a1a1a">1</text>
<text x="376.7" y="365" font-size="10.2" text-anchor="middle" font-weight="normal" font-style="normal" fill="#1a1a1a">2</text>
<text x="397.38" y="365" font-size="10.2" text-anchor="middle" font-weight="normal" font-style="normal" fill="#1a1a1a">3</text>
<text x="418.06" y="365" font-size="10.2" text-anchor="middle" font-weight="normal" font-style="normal" fill="#1a1a1a">4</text>
<text x="438.74" y="365" font-size="10.2" text-anchor="middle" font-weight="normal" font-style="normal" fill="#1a1a1a">5</text>
<text x="459.42" y="365" font-size="10.2" text-anchor="middle" font-weight="normal" font-style="normal" fill="#1a1a1a">6</text>
<text x="480.1" y="365" font-size="10.2" text-anchor="middle" font-weight="normal" font-style="normal" fill="#1a1a1a">7</text>
<text x="500.78" y="365" font-size="10.2" text-anchor="middle" font-weight="normal" font-style="normal" fill="#1a1a1a">8</text>
<text x="418" y="379.3" font-size="13" text-anchor="middle" font-weight="normal" font-style="normal" fill="#1a1a1a">Weeks</text>
<text transform="translate(295.8 277.6) rotate(-90)" x="0" y="0" font-size="11.8" text-anchor="middle" font-weight="normal" fill="#1a1a1a">HB (g/dL)</text>
<text x="254.2" y="203.3" font-size="14.2" text-anchor="start" font-weight="bold" font-style="normal" fill="#000">D</text>
<rect x="339.5" y="193.25" width="8.5" height="8.7" fill="#000"/>
<rect x="340" y="209.25" width="7.5" height="7.7" fill="#bdbdbd" stroke="#555" stroke-width="1"/>
<text x="354.5" y="200.8" font-size="10.6" fill="#1a1a1a"><tspan font-style="italic">NHD13</tspan>+ (DMSO)</text>
<text x="354.5" y="218.4" font-size="10.6" fill="#1a1a1a"><tspan font-style="italic">NHD13</tspan><tspan font-size="6.57" dy="-3.2">+</tspan><tspan dy="3.2" x="399.8">(PFT-α)</tspan></text>
<line x1="60.97" y1="462.7" x2="60.97" y2="460.8" stroke="#3a3a3a" stroke-width="1.1"/>
<line x1="58.37" y1="460.8" x2="63.57" y2="460.8" stroke="#3a3a3a" stroke-width="1.3"/>
<line x1="66.47" y1="464.6" x2="66.47" y2="464.2" stroke="#3a3a3a" stroke-width="1.1"/>
<line x1="63.87" y1="464.2" x2="69.07" y2="464.2" stroke="#3a3a3a" stroke-width="1.3"/>
<rect x="58.22" y="462.7" width="5.5" height="87.9" fill="#000"/>
<rect x="63.72" y="464.6" width="5.5" height="86" fill="#b0b0b0"/>
<line x1="82.21" y1="460.8" x2="82.21" y2="459.2" stroke="#3a3a3a" stroke-width="1.1"/>
<line x1="79.61" y1="459.2" x2="84.81" y2="459.2" stroke="#3a3a3a" stroke-width="1.3"/>
<line x1="87.71" y1="465.6" x2="87.71" y2="465" stroke="#3a3a3a" stroke-width="1.1"/>
<line x1="85.11" y1="465" x2="90.31" y2="465" stroke="#3a3a3a" stroke-width="1.3"/>
<rect x="79.46" y="460.8" width="5.5" height="89.8" fill="#000"/>
<rect x="84.96" y="465.6" width="5.5" height="85" fill="#b0b0b0"/>
<line x1="103.45" y1="455" x2="103.45" y2="453.5" stroke="#3a3a3a" stroke-width="1.1"/>
<line x1="100.85" y1="453.5" x2="106.05" y2="453.5" stroke="#3a3a3a" stroke-width="1.3"/>
<line x1="108.95" y1="459.8" x2="108.95" y2="453.5" stroke="#3a3a3a" stroke-width="1.1"/>
<line x1="106.35" y1="453.5" x2="111.55" y2="453.5" stroke="#3a3a3a" stroke-width="1.3"/>
<rect x="100.7" y="455" width="5.5" height="95.6" fill="#000"/>
<rect x="106.2" y="459.8" width="5.5" height="90.8" fill="#b0b0b0"/>
<line x1="124.69" y1="453.1" x2="124.69" y2="451.5" stroke="#3a3a3a" stroke-width="1.1"/>
<line x1="122.09" y1="451.5" x2="127.29" y2="451.5" stroke="#3a3a3a" stroke-width="1.3"/>
<line x1="130.19" y1="459.4" x2="130.19" y2="454" stroke="#3a3a3a" stroke-width="1.1"/>
<line x1="127.59" y1="454" x2="132.79" y2="454" stroke="#3a3a3a" stroke-width="1.3"/>
<rect x="121.94" y="453.1" width="5.5" height="97.5" fill="#000"/>
<rect x="127.44" y="459.4" width="5.5" height="91.2" fill="#b0b0b0"/>
<line x1="145.93" y1="451.9" x2="145.93" y2="450.4" stroke="#3a3a3a" stroke-width="1.1"/>
<line x1="143.33" y1="450.4" x2="148.53" y2="450.4" stroke="#3a3a3a" stroke-width="1.3"/>
<line x1="151.43" y1="460.2" x2="151.43" y2="456.8" stroke="#3a3a3a" stroke-width="1.1"/>
<line x1="148.83" y1="456.8" x2="154.03" y2="456.8" stroke="#3a3a3a" stroke-width="1.3"/>
<rect x="143.18" y="451.9" width="5.5" height="98.7" fill="#000"/>
<rect x="148.68" y="460.2" width="5.5" height="90.4" fill="#b0b0b0"/>
<line x1="167.17" y1="449.6" x2="167.17" y2="448.1" stroke="#3a3a3a" stroke-width="1.1"/>
<line x1="164.57" y1="448.1" x2="169.77" y2="448.1" stroke="#3a3a3a" stroke-width="1.3"/>
<line x1="172.67" y1="457" x2="172.67" y2="453.4" stroke="#3a3a3a" stroke-width="1.1"/>
<line x1="170.07" y1="453.4" x2="175.27" y2="453.4" stroke="#3a3a3a" stroke-width="1.3"/>
<rect x="164.42" y="449.6" width="5.5" height="101" fill="#000"/>
<rect x="169.92" y="457" width="5.5" height="93.6" fill="#b0b0b0"/>
<line x1="188.41" y1="445" x2="188.41" y2="443.7" stroke="#3a3a3a" stroke-width="1.1"/>
<line x1="185.81" y1="443.7" x2="191.01" y2="443.7" stroke="#3a3a3a" stroke-width="1.3"/>
<line x1="193.91" y1="451.3" x2="193.91" y2="445.4" stroke="#3a3a3a" stroke-width="1.1"/>
<line x1="191.31" y1="445.4" x2="196.51" y2="445.4" stroke="#3a3a3a" stroke-width="1.3"/>
<rect x="185.66" y="445" width="5.5" height="105.6" fill="#000"/>
<rect x="191.16" y="451.3" width="5.5" height="99.3" fill="#b0b0b0"/>
<line x1="209.65" y1="439.5" x2="209.65" y2="438" stroke="#3a3a3a" stroke-width="1.1"/>
<line x1="207.05" y1="438" x2="212.25" y2="438" stroke="#3a3a3a" stroke-width="1.3"/>
<line x1="215.15" y1="447.9" x2="215.15" y2="441.6" stroke="#3a3a3a" stroke-width="1.1"/>
<line x1="212.55" y1="441.6" x2="217.75" y2="441.6" stroke="#3a3a3a" stroke-width="1.3"/>
<rect x="206.9" y="439.5" width="5.5" height="111.1" fill="#000"/>
<rect x="212.4" y="447.9" width="5.5" height="102.7" fill="#b0b0b0"/>
<line x1="230.89" y1="435.9" x2="230.89" y2="434.4" stroke="#3a3a3a" stroke-width="1.1"/>
<line x1="228.29" y1="434.4" x2="233.49" y2="434.4" stroke="#3a3a3a" stroke-width="1.3"/>
<line x1="236.39" y1="445.8" x2="236.39" y2="441.1" stroke="#3a3a3a" stroke-width="1.1"/>
<line x1="233.79" y1="441.1" x2="238.99" y2="441.1" stroke="#3a3a3a" stroke-width="1.3"/>
<rect x="228.14" y="435.9" width="5.5" height="114.7" fill="#000"/>
<rect x="233.64" y="445.8" width="5.5" height="104.8" fill="#b0b0b0"/>
<line x1="53.5" y1="413.3" x2="53.5" y2="551" stroke="#7a7a7a" stroke-width="1"/>
<line x1="53" y1="550.5" x2="244.76" y2="550.5" stroke="#7a7a7a" stroke-width="1"/>
<line x1="50" y1="550.5" x2="53.5" y2="550.5" stroke="#7a7a7a" stroke-width="1"/>
<text x="43.2" y="555.27" font-size="10.2" text-anchor="end" font-weight="normal" font-style="normal" fill="#1a1a1a">0</text>
<line x1="50" y1="533.5" x2="53.5" y2="533.5" stroke="#7a7a7a" stroke-width="1"/>
<text x="43.2" y="538.17" font-size="10.2" text-anchor="end" font-weight="normal" font-style="normal" fill="#1a1a1a">10</text>
<line x1="50" y1="516.5" x2="53.5" y2="516.5" stroke="#7a7a7a" stroke-width="1"/>
<text x="43.2" y="521.07" font-size="10.2" text-anchor="end" font-weight="normal" font-style="normal" fill="#1a1a1a">20</text>
<line x1="50" y1="499.5" x2="53.5" y2="499.5" stroke="#7a7a7a" stroke-width="1"/>
<text x="43.2" y="503.97" font-size="10.2" text-anchor="end" font-weight="normal" font-style="normal" fill="#1a1a1a">30</text>
<line x1="50" y1="482.5" x2="53.5" y2="482.5" stroke="#7a7a7a" stroke-width="1"/>
<text x="43.2" y="486.87" font-size="10.2" text-anchor="end" font-weight="normal" font-style="normal" fill="#1a1a1a">40</text>
<line x1="50" y1="465.5" x2="53.5" y2="465.5" stroke="#7a7a7a" stroke-width="1"/>
<text x="43.2" y="469.77" font-size="10.2" text-anchor="end" font-weight="normal" font-style="normal" fill="#1a1a1a">50</text>
<line x1="50" y1="448.5" x2="53.5" y2="448.5" stroke="#7a7a7a" stroke-width="1"/>
<text x="43.2" y="452.67" font-size="10.2" text-anchor="end" font-weight="normal" font-style="normal" fill="#1a1a1a">60</text>
<line x1="50" y1="430.5" x2="53.5" y2="430.5" stroke="#7a7a7a" stroke-width="1"/>
<text x="43.2" y="435.57" font-size="10.2" text-anchor="end" font-weight="normal" font-style="normal" fill="#1a1a1a">70</text>
<line x1="50" y1="413.5" x2="53.5" y2="413.5" stroke="#7a7a7a" stroke-width="1"/>
<text x="43.2" y="418.47" font-size="10.2" text-anchor="end" font-weight="normal" font-style="normal" fill="#1a1a1a">80</text>
<line x1="53.5" y1="550.5" x2="53.5" y2="554" stroke="#7a7a7a" stroke-width="1"/>
<line x1="74.5" y1="550.5" x2="74.5" y2="554" stroke="#7a7a7a" stroke-width="1"/>
<line x1="95.5" y1="550.5" x2="95.5" y2="554" stroke="#7a7a7a" stroke-width="1"/>
<line x1="116.5" y1="550.5" x2="116.5" y2="554" stroke="#7a7a7a" stroke-width="1"/>
<line x1="138.5" y1="550.5" x2="138.5" y2="554" stroke="#7a7a7a" stroke-width="1"/>
<line x1="159.5" y1="550.5" x2="159.5" y2="554" stroke="#7a7a7a" stroke-width="1"/>
<line x1="180.5" y1="550.5" x2="180.5" y2="554" stroke="#7a7a7a" stroke-width="1"/>
<line x1="201.5" y1="550.5" x2="201.5" y2="554" stroke="#7a7a7a" stroke-width="1"/>
<line x1="223.5" y1="550.5" x2="223.5" y2="554" stroke="#7a7a7a" stroke-width="1"/>
<line x1="244.5" y1="550.5" x2="244.5" y2="554" stroke="#7a7a7a" stroke-width="1"/>
<text x="63.72" y="567.8" font-size="10.2" text-anchor="middle" font-weight="normal" font-style="normal" fill="#1a1a1a">0</text>
<text x="84.96" y="567.8" font-size="10.2" text-anchor="middle" font-weight="normal" font-style="normal" fill="#1a1a1a">1</text>
<text x="106.2" y="567.8" font-size="10.2" text-anchor="middle" font-weight="normal" font-style="normal" fill="#1a1a1a">2</text>
<text x="127.44" y="567.8" font-size="10.2" text-anchor="middle" font-weight="normal" font-style="normal" fill="#1a1a1a">3</text>
<text x="148.68" y="567.8" font-size="10.2" text-anchor="middle" font-weight="normal" font-style="normal" fill="#1a1a1a">4</text>
<text x="169.92" y="567.8" font-size="10.2" text-anchor="middle" font-weight="normal" font-style="normal" fill="#1a1a1a">5</text>
<text x="191.16" y="567.8" font-size="10.2" text-anchor="middle" font-weight="normal" font-style="normal" fill="#1a1a1a">6</text>
<text x="212.4" y="567.8" font-size="10.2" text-anchor="middle" font-weight="normal" font-style="normal" fill="#1a1a1a">7</text>
<text x="233.64" y="567.8" font-size="10.2" text-anchor="middle" font-weight="normal" font-style="normal" fill="#1a1a1a">8</text>
<text x="150" y="578.8" font-size="12.7" text-anchor="middle" font-weight="normal" font-style="normal" fill="#1a1a1a">Weeks</text>
<text transform="translate(23.2 484.5) rotate(-90)" x="0" y="0" font-size="12.9" text-anchor="middle" font-weight="normal" fill="#1a1a1a">MCV (fL)</text>
<text x="1.5" y="408.3" font-size="14.2" text-anchor="start" font-weight="bold" font-style="normal" fill="#000">E</text>
<rect x="60" y="414.5" width="9.5" height="9.2" fill="#000"/>
<rect x="60.5" y="430.5" width="8.5" height="8.2" fill="#bdbdbd" stroke="#555" stroke-width="1"/>
<text x="75.5" y="423.3" font-size="10.6" fill="#1a1a1a"><tspan font-style="italic">NHD13</tspan>+ (DMSO)</text>
<text x="75.5" y="440.2" font-size="10.6" fill="#1a1a1a"><tspan font-style="italic">NHD13</tspan><tspan font-size="6.57" dy="-3.2">+</tspan><tspan dy="3.2" x="121.4">(PFT-α)</tspan></text>
<line x1="336.6" y1="507.5" x2="336.6" y2="500.4" stroke="#3a3a3a" stroke-width="1.1"/>
<line x1="334" y1="500.4" x2="339.2" y2="500.4" stroke="#3a3a3a" stroke-width="1.3"/>
<line x1="342.5" y1="505" x2="342.5" y2="497.5" stroke="#3a3a3a" stroke-width="1.1"/>
<line x1="339.9" y1="497.5" x2="345.1" y2="497.5" stroke="#3a3a3a" stroke-width="1.3"/>
<rect x="333.65" y="507.5" width="5.9" height="42.3" fill="#000"/>
<rect x="339.55" y="505" width="5.9" height="44.8" fill="#b0b0b0"/>
<line x1="357.3" y1="504.2" x2="357.3" y2="496.3" stroke="#3a3a3a" stroke-width="1.1"/>
<line x1="354.7" y1="496.3" x2="359.9" y2="496.3" stroke="#3a3a3a" stroke-width="1.3"/>
<line x1="363.2" y1="503.1" x2="363.2" y2="494.6" stroke="#3a3a3a" stroke-width="1.1"/>
<line x1="360.6" y1="494.6" x2="365.8" y2="494.6" stroke="#3a3a3a" stroke-width="1.3"/>
<rect x="354.35" y="504.2" width="5.9" height="45.6" fill="#000"/>
<rect x="360.25" y="503.1" width="5.9" height="46.7" fill="#b0b0b0"/>
<line x1="378" y1="496" x2="378" y2="478.3" stroke="#3a3a3a" stroke-width="1.1"/>
<line x1="375.4" y1="478.3" x2="380.6" y2="478.3" stroke="#3a3a3a" stroke-width="1.3"/>
<line x1="383.9" y1="508.1" x2="383.9" y2="496.9" stroke="#3a3a3a" stroke-width="1.1"/>
<line x1="381.3" y1="496.9" x2="386.5" y2="496.9" stroke="#3a3a3a" stroke-width="1.3"/>
<rect x="375.05" y="496" width="5.9" height="53.8" fill="#000"/>
<rect x="380.95" y="508.1" width="5.9" height="41.7" fill="#b0b0b0"/>
<line x1="398.7" y1="496.8" x2="398.7" y2="484" stroke="#3a3a3a" stroke-width="1.1"/>
<line x1="396.1" y1="484" x2="401.3" y2="484" stroke="#3a3a3a" stroke-width="1.3"/>
<line x1="404.6" y1="488.1" x2="404.6" y2="471.7" stroke="#3a3a3a" stroke-width="1.1"/>
<line x1="402" y1="471.7" x2="407.2" y2="471.7" stroke="#3a3a3a" stroke-width="1.3"/>
<rect x="395.75" y="496.8" width="5.9" height="53" fill="#000"/>
<rect x="401.65" y="488.1" width="5.9" height="61.7" fill="#b0b0b0"/>
<line x1="419.4" y1="510.6" x2="419.4" y2="493.6" stroke="#3a3a3a" stroke-width="1.1"/>
<line x1="416.8" y1="493.6" x2="422" y2="493.6" stroke="#3a3a3a" stroke-width="1.3"/>
<line x1="425.3" y1="513.5" x2="425.3" y2="504.4" stroke="#3a3a3a" stroke-width="1.1"/>
<line x1="422.7" y1="504.4" x2="427.9" y2="504.4" stroke="#3a3a3a" stroke-width="1.3"/>
<rect x="416.45" y="510.6" width="5.9" height="39.2" fill="#000"/>
<rect x="422.35" y="513.5" width="5.9" height="36.3" fill="#b0b0b0"/>
<line x1="440.1" y1="478.1" x2="440.1" y2="453.3" stroke="#3a3a3a" stroke-width="1.1"/>
<line x1="437.5" y1="453.3" x2="442.7" y2="453.3" stroke="#3a3a3a" stroke-width="1.3"/>
<line x1="446" y1="507.5" x2="446" y2="501.4" stroke="#3a3a3a" stroke-width="1.1"/>
<line x1="443.4" y1="501.4" x2="448.6" y2="501.4" stroke="#3a3a3a" stroke-width="1.3"/>
<rect x="437.15" y="478.1" width="5.9" height="71.7" fill="#000"/>
<rect x="443.05" y="507.5" width="5.9" height="42.3" fill="#b0b0b0"/>
<line x1="460.8" y1="473.1" x2="460.8" y2="465.2" stroke="#3a3a3a" stroke-width="1.1"/>
<line x1="458.2" y1="465.2" x2="463.4" y2="465.2" stroke="#3a3a3a" stroke-width="1.3"/>
<line x1="466.7" y1="488.8" x2="466.7" y2="483.3" stroke="#3a3a3a" stroke-width="1.1"/>
<line x1="464.1" y1="483.3" x2="469.3" y2="483.3" stroke="#3a3a3a" stroke-width="1.3"/>
<rect x="457.85" y="473.1" width="5.9" height="76.7" fill="#000"/>
<rect x="463.75" y="488.8" width="5.9" height="61" fill="#b0b0b0"/>
<line x1="481.5" y1="474.6" x2="481.5" y2="464.5" stroke="#3a3a3a" stroke-width="1.1"/>
<line x1="478.9" y1="464.5" x2="484.1" y2="464.5" stroke="#3a3a3a" stroke-width="1.3"/>
<line x1="487.4" y1="495.2" x2="487.4" y2="491.2" stroke="#3a3a3a" stroke-width="1.1"/>
<line x1="484.8" y1="491.2" x2="490" y2="491.2" stroke="#3a3a3a" stroke-width="1.3"/>
<rect x="478.55" y="474.6" width="5.9" height="75.2" fill="#000"/>
<rect x="484.45" y="495.2" width="5.9" height="54.6" fill="#b0b0b0"/>
<line x1="502.2" y1="479.5" x2="502.2" y2="473.3" stroke="#3a3a3a" stroke-width="1.1"/>
<line x1="499.6" y1="473.3" x2="504.8" y2="473.3" stroke="#3a3a3a" stroke-width="1.3"/>
<line x1="508.1" y1="493.1" x2="508.1" y2="483.2" stroke="#3a3a3a" stroke-width="1.1"/>
<line x1="505.5" y1="483.2" x2="510.7" y2="483.2" stroke="#3a3a3a" stroke-width="1.3"/>
<rect x="499.25" y="479.5" width="5.9" height="70.3" fill="#000"/>
<rect x="505.15" y="493.1" width="5.9" height="56.7" fill="#b0b0b0"/>
<line x1="329.5" y1="420.5" x2="329.5" y2="550" stroke="#7a7a7a" stroke-width="1"/>
<line x1="329" y1="549.5" x2="516" y2="549.5" stroke="#7a7a7a" stroke-width="1"/>
<line x1="326" y1="549.5" x2="329.5" y2="549.5" stroke="#7a7a7a" stroke-width="1"/>
<text x="318.6" y="553.91" font-size="10.3" text-anchor="end" font-weight="normal" font-style="normal" fill="#1a1a1a">0.00</text>
<line x1="326" y1="517.5" x2="329.5" y2="517.5" stroke="#7a7a7a" stroke-width="1"/>
<text x="318.6" y="521.71" font-size="10.3" text-anchor="end" font-weight="normal" font-style="normal" fill="#1a1a1a">500.00</text>
<line x1="326" y1="485.5" x2="329.5" y2="485.5" stroke="#7a7a7a" stroke-width="1"/>
<text x="318.6" y="489.51" font-size="10.3" text-anchor="end" font-weight="normal" font-style="normal" fill="#1a1a1a">1000.00</text>
<line x1="326" y1="453.5" x2="329.5" y2="453.5" stroke="#7a7a7a" stroke-width="1"/>
<text x="318.6" y="457.31" font-size="10.3" text-anchor="end" font-weight="normal" font-style="normal" fill="#1a1a1a">1500.00</text>
<line x1="326" y1="420.5" x2="329.5" y2="420.5" stroke="#7a7a7a" stroke-width="1"/>
<text x="318.6" y="425.11" font-size="10.3" text-anchor="end" font-weight="normal" font-style="normal" fill="#1a1a1a">2000.00</text>
<line x1="329.5" y1="549.5" x2="329.5" y2="553" stroke="#7a7a7a" stroke-width="1"/>
<line x1="349.5" y1="549.5" x2="349.5" y2="553" stroke="#7a7a7a" stroke-width="1"/>
<line x1="370.5" y1="549.5" x2="370.5" y2="553" stroke="#7a7a7a" stroke-width="1"/>
<line x1="391.5" y1="549.5" x2="391.5" y2="553" stroke="#7a7a7a" stroke-width="1"/>
<line x1="412.5" y1="549.5" x2="412.5" y2="553" stroke="#7a7a7a" stroke-width="1"/>
<line x1="432.5" y1="549.5" x2="432.5" y2="553" stroke="#7a7a7a" stroke-width="1"/>
<line x1="453.5" y1="549.5" x2="453.5" y2="553" stroke="#7a7a7a" stroke-width="1"/>
<line x1="474.5" y1="549.5" x2="474.5" y2="553" stroke="#7a7a7a" stroke-width="1"/>
<line x1="494.5" y1="549.5" x2="494.5" y2="553" stroke="#7a7a7a" stroke-width="1"/>
<line x1="515.5" y1="549.5" x2="515.5" y2="553" stroke="#7a7a7a" stroke-width="1"/>
<text x="339.55" y="567.7" font-size="10.2" text-anchor="middle" font-weight="normal" font-style="normal" fill="#1a1a1a">0</text>
<text x="360.25" y="567.7" font-size="10.2" text-anchor="middle" font-weight="normal" font-style="normal" fill="#1a1a1a">1</text>
<text x="380.95" y="567.7" font-size="10.2" text-anchor="middle" font-weight="normal" font-style="normal" fill="#1a1a1a">2</text>
<text x="401.65" y="567.7" font-size="10.2" text-anchor="middle" font-weight="normal" font-style="normal" fill="#1a1a1a">3</text>
<text x="422.35" y="567.7" font-size="10.2" text-anchor="middle" font-weight="normal" font-style="normal" fill="#1a1a1a">4</text>
<text x="443.05" y="567.7" font-size="10.2" text-anchor="middle" font-weight="normal" font-style="normal" fill="#1a1a1a">5</text>
<text x="463.75" y="567.7" font-size="10.2" text-anchor="middle" font-weight="normal" font-style="normal" fill="#1a1a1a">6</text>
<text x="484.45" y="567.7" font-size="10.2" text-anchor="middle" font-weight="normal" font-style="normal" fill="#1a1a1a">7</text>
<text x="505.15" y="567.7" font-size="10.2" text-anchor="middle" font-weight="normal" font-style="normal" fill="#1a1a1a">8</text>
<text x="423.6" y="580.2" font-size="12.7" text-anchor="middle" font-weight="normal" font-style="normal" fill="#1a1a1a">Weeks</text>
<text transform="translate(276.1 483.5) rotate(-90)" x="0" y="0" font-size="12.1" text-anchor="middle" font-weight="normal" fill="#1a1a1a">Platelets k/ul</text>
<text x="254.3" y="407.6" font-size="14.2" text-anchor="start" font-weight="bold" font-style="normal" fill="#000">F</text>
<rect x="337.5" y="418" width="8.75" height="9.2" fill="#000"/>
<rect x="338" y="434.25" width="7.75" height="8.2" fill="#bdbdbd" stroke="#555" stroke-width="1"/>
<text x="352" y="426.4" font-size="10.6" fill="#1a1a1a"><tspan font-style="italic">NHD13</tspan>+ (DMSO)</text>
<text x="352" y="443.9" font-size="10.6" fill="#1a1a1a"><tspan font-style="italic">NHD13</tspan><tspan font-size="6.57" dy="-3.2">+</tspan><tspan dy="3.2" x="398.2">(PFT-α)</tspan></text>
<text x="341.5" y="458.1" font-size="10.07" font-weight="bold" fill="#1a1a1a">*</text>
<text x="347.4" y="457.6" font-size="10.6" fill="#1a1a1a"><tspan font-style="italic">P</tspan>&lt;0.05</text>
<polygon points="447,491.4 447.79,493.41 449.95,493.54 448.28,494.92 448.82,497.01 447,495.85 445.18,497.01 445.72,494.92 444.05,493.54 446.21,493.41" fill="#222"/>
<line x1="56.9" y1="600.53" x2="56.9" y2="715.8" stroke="#000" stroke-width="1.4"/>
<line x1="56.3" y1="715.2" x2="228.6" y2="715.2" stroke="#000" stroke-width="1.4"/>
<line x1="53.3" y1="715.2" x2="56.9" y2="715.2" stroke="#000" stroke-width="1.2"/>
<text x="52.3" y="717.9" font-size="7.6" text-anchor="end" font-weight="bold" font-style="normal" fill="#111">0</text>
<line x1="53.3" y1="676.98" x2="56.9" y2="676.98" stroke="#000" stroke-width="1.2"/>
<text x="52.3" y="679.68" font-size="7.6" text-anchor="end" font-weight="bold" font-style="normal" fill="#111">50</text>
<line x1="53.3" y1="638.75" x2="56.9" y2="638.75" stroke="#000" stroke-width="1.2"/>
<text x="52.3" y="641.45" font-size="7.6" text-anchor="end" font-weight="bold" font-style="normal" fill="#111">100</text>
<line x1="53.3" y1="600.53" x2="56.9" y2="600.53" stroke="#000" stroke-width="1.2"/>
<text x="52.3" y="603.23" font-size="7.6" text-anchor="end" font-weight="bold" font-style="normal" fill="#111">150</text>
<line x1="56.9" y1="715.2" x2="56.9" y2="718.8" stroke="#000" stroke-width="1.2"/>
<text x="56.9" y="727.4" font-size="7.6" text-anchor="middle" font-weight="bold" font-style="normal" fill="#111">0</text>
<line x1="91.12" y1="715.2" x2="91.12" y2="718.8" stroke="#000" stroke-width="1.2"/>
<text x="91.12" y="727.4" font-size="7.6" text-anchor="middle" font-weight="bold" font-style="normal" fill="#111">100</text>
<line x1="125.34" y1="715.2" x2="125.34" y2="718.8" stroke="#000" stroke-width="1.2"/>
<text x="125.34" y="727.4" font-size="7.6" text-anchor="middle" font-weight="bold" font-style="normal" fill="#111">200</text>
<line x1="159.56" y1="715.2" x2="159.56" y2="718.8" stroke="#000" stroke-width="1.2"/>
<text x="159.56" y="727.4" font-size="7.6" text-anchor="middle" font-weight="bold" font-style="normal" fill="#111">300</text>
<line x1="193.78" y1="715.2" x2="193.78" y2="718.8" stroke="#000" stroke-width="1.2"/>
<text x="193.78" y="727.4" font-size="7.6" text-anchor="middle" font-weight="bold" font-style="normal" fill="#111">400</text>
<line x1="228" y1="715.2" x2="228" y2="718.8" stroke="#000" stroke-width="1.2"/>
<text x="228" y="727.4" font-size="7.6" text-anchor="middle" font-weight="bold" font-style="normal" fill="#111">500</text>
<text x="142.8" y="740.4" font-size="9" text-anchor="middle" font-weight="bold" font-style="normal" fill="#111">Days</text>
<text transform="translate(33.9 657.2) rotate(-90)" x="0" y="0" font-size="9.5" text-anchor="middle" font-weight="bold" fill="#111">Percent survival</text>
<text x="1.5" y="595.8" font-size="14.2" text-anchor="start" font-weight="bold" font-style="normal" fill="#000">G</text>
<polyline points="56.9,638.75 136.6,638.75 136.6,654.04 150,654.04 150,669.33 155.8,669.33 155.8,684.62 186.6,684.62 186.6,699.91 198,699.91 198,715.2" fill="none" stroke="#111" stroke-width="1.4" stroke-dasharray="3,2"/>
<polyline points="56.9,638.75 131.5,638.75 131.5,654.04 169.3,654.04 169.3,669.33 183.6,669.33 183.6,684.62 187.4,684.62 187.4,699.91 199.3,699.91 199.3,715.2" fill="none" stroke="#111" stroke-width="1.4"/>
<line x1="66.8" y1="607.6" x2="78.5" y2="607.6" stroke="#000" stroke-width="1.5"/>
<line x1="72.3" y1="606.2" x2="72.3" y2="609.2" stroke="#000" stroke-width="1.1"/>
<line x1="66.6" y1="620.6" x2="68.6" y2="620.6" stroke="#000" stroke-width="1.5"/>
<polygon points="72.3,619.2 75.2,620.8 72.3,622.2" fill="#111"/>
<line x1="77.6" y1="620.6" x2="79" y2="620.6" stroke="#777" stroke-width="1.3"/>
<text x="86" y="609.9" font-size="9.45" font-weight="bold" fill="#111"><tspan font-style="italic">NHD13</tspan>+ (DMSO)</text>
<text x="86" y="622.7" font-size="9.45" font-weight="bold" fill="#111"><tspan font-style="italic">NHD13</tspan>+ (PFT-alpha)</text>
</g>
</svg>
</body></html>
